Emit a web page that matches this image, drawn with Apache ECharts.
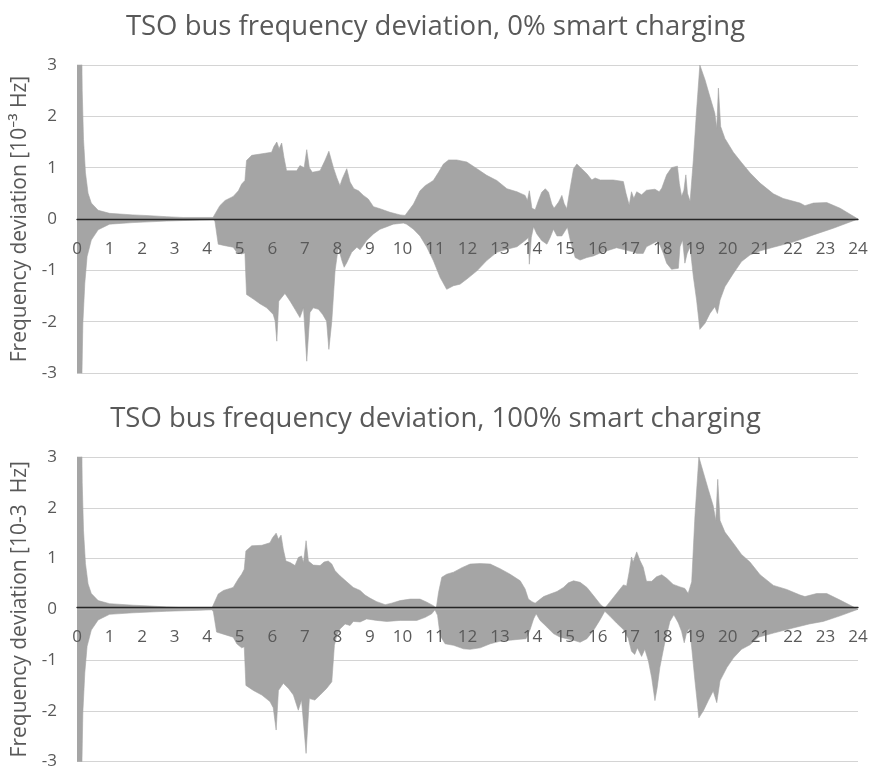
<!DOCTYPE html>
<html>
<head>
<meta charset="utf-8">
<title>TSO bus frequency deviation</title>
<script src="https://cdn.jsdelivr.net/npm/echarts@6/dist/echarts.min.js"></script>
<style>
  html, body { margin: 0; padding: 0; background: #ffffff; }
  #chart { width: 871px; height: 770px; }
</style>
</head>
<body>
<div id="chart"></div>
<script>
// Hour-of-day tick labels (0..24)
const hourTicks = Array.from({ length: 25 }, (_, i) => i);

const titles = [
  'TSO bus frequency deviation, 0% smart charging',
  'TSO bus frequency deviation, 100% smart charging'
];
const yNames = [
  'Frequency deviation [10\u207B\u00B3 Hz]',
  'Frequency deviation [10-3  Hz]'
];

// Envelope of the frequency deviation, [hour, 10^-3 Hz]; 0% smart charging
const topUpper = [
  [0, 3.4], [0.15, 3.1], [0.16, 2.5], [0.2, 1.55], [0.26, 0.9], [0.34, 0.5], [0.44, 0.31], [0.65, 0.17],
  [1.0, 0.11], [1.72, 0.08], [2.23, 0.065], [2.75, 0.045], [3.26, 0.03], [4.18, 0.03], [4.24, 0.05],
  [4.39, 0.26], [4.55, 0.36], [4.8, 0.44], [4.96, 0.55], [5.06, 0.68], [5.16, 0.75], [5.21, 1.14],
  [5.37, 1.24], [5.68, 1.27], [5.98, 1.3], [6.05, 1.41], [6.14, 1.5], [6.21, 1.37], [6.29, 1.48],
  [6.36, 1.2], [6.44, 0.94], [6.75, 0.94], [6.85, 1.04], [6.98, 1.0], [7.06, 1.35], [7.14, 1.0],
  [7.23, 0.91], [7.47, 0.94], [7.62, 1.14], [7.74, 1.32], [7.88, 1.0], [7.98, 0.81], [8.08, 0.65],
  [8.15, 0.78], [8.29, 0.98], [8.39, 0.72], [8.51, 0.59], [8.65, 0.55], [8.8, 0.46], [8.95, 0.39],
  [9.11, 0.24], [9.31, 0.2], [9.62, 0.13], [9.93, 0.08], [10.08, 0.07], [10.13, 0.1], [10.34, 0.29],
  [10.54, 0.55], [10.7, 0.65], [10.95, 0.75], [11.11, 0.91], [11.26, 1.07], [11.42, 1.15], [11.67, 1.15],
  [11.98, 1.11], [12.29, 0.98], [12.59, 0.85], [12.9, 0.75], [13.21, 0.59], [13.52, 0.53], [13.77, 0.46],
  [13.84, 0.36], [13.9, 0.55], [13.98, 0.21], [14.08, 0.18], [14.18, 0.36], [14.28, 0.52], [14.39, 0.59],
  [14.49, 0.52], [14.59, 0.29], [14.66, 0.21], [14.8, 0.33], [14.9, 0.46], [14.97, 0.3], [15.05, 0.2],
  [15.16, 0.62], [15.26, 0.98], [15.36, 1.07], [15.51, 0.98], [15.67, 0.88], [15.82, 0.76], [15.92, 0.8],
  [16.08, 0.76], [16.48, 0.76], [16.79, 0.73], [16.87, 0.5], [16.97, 0.27], [17.04, 0.53], [17.11, 0.4],
  [17.2, 0.53], [17.35, 0.47], [17.5, 0.56], [17.76, 0.58], [17.89, 0.53], [17.97, 0.6], [18.12, 0.86],
  [18.27, 1.0], [18.45, 1.03], [18.51, 0.69], [18.58, 0.44], [18.65, 0.56], [18.71, 0.86], [18.76, 0.5],
  [18.84, 0.34], [18.94, 1.15], [19.04, 2.12], [19.14, 3.0], [19.3, 2.71], [19.45, 2.38], [19.6, 2.06],
  [19.66, 1.77], [19.71, 2.55], [19.78, 1.8], [19.91, 1.57], [20.17, 1.3], [20.42, 1.1], [20.68, 0.9],
  [20.99, 0.7], [21.4, 0.49], [21.7, 0.4], [22.22, 0.31], [22.37, 0.26], [22.63, 0.31], [23.04, 0.32],
  [23.45, 0.21], [24, 0]
];
const topLower = [
  [0, -3.4], [0.15, -3.1], [0.18, -2.03], [0.24, -1.25], [0.31, -0.73], [0.44, -0.41], [0.65, -0.21],
  [1.0, -0.1], [1.72, -0.07], [2.75, -0.04], [3.77, -0.02], [4.2, -0.01], [4.24, -0.05], [4.34, -0.49],
  [4.55, -0.52], [4.8, -0.55], [4.91, -0.65], [5.06, -0.68], [5.16, -0.66], [5.21, -1.47], [5.42, -1.56],
  [5.62, -1.65], [5.83, -1.73], [6.03, -1.86], [6.09, -1.99], [6.14, -2.38], [6.2, -1.6], [6.39, -1.45],
  [6.55, -1.6], [6.7, -1.76], [6.85, -1.92], [6.96, -1.73], [7.06, -2.77], [7.16, -1.82], [7.26, -1.73],
  [7.42, -1.76], [7.55, -1.86], [7.67, -1.99], [7.74, -2.54], [7.83, -1.99], [7.93, -1.01], [8.03, -0.55],
  [8.14, -0.81], [8.21, -0.94], [8.29, -0.85], [8.44, -0.65], [8.6, -0.55], [8.7, -0.6], [8.9, -0.42],
  [9.11, -0.29], [9.31, -0.2], [9.52, -0.15], [9.72, -0.1], [10.03, -0.08], [10.13, -0.1], [10.34, -0.2],
  [10.54, -0.33], [10.75, -0.55], [10.95, -0.81], [11.16, -1.14], [11.36, -1.37], [11.57, -1.3],
  [11.77, -1.27], [11.98, -1.17], [12.29, -1.01], [12.59, -0.81], [12.9, -0.65], [13.21, -0.59],
  [13.52, -0.54], [13.77, -0.42], [13.87, -0.36], [13.9, -0.88], [13.96, -0.36], [14.03, -0.15],
  [14.13, -0.29], [14.28, -0.42], [14.44, -0.49], [14.54, -0.36], [14.64, -0.2], [14.75, -0.33],
  [14.9, -0.33], [15.0, -0.23], [15.07, -0.16], [15.16, -0.42], [15.31, -0.75], [15.46, -0.8],
  [15.67, -0.75], [15.87, -0.72], [16.08, -0.66], [16.58, -0.56], [17.09, -0.64], [17.2, -0.67],
  [17.4, -0.67], [17.5, -0.54], [17.81, -0.44], [17.91, -0.5], [18.02, -0.67], [18.12, -0.86],
  [18.27, -0.98], [18.48, -0.96], [18.53, -0.54], [18.61, -0.41], [18.68, -0.86], [18.75, -0.67],
  [18.84, -0.54], [18.94, -1.12], [19.04, -1.58], [19.14, -2.15], [19.3, -2.03], [19.45, -1.84],
  [19.6, -1.71], [19.68, -1.84], [19.76, -1.58], [19.91, -1.32], [20.17, -1.06], [20.42, -0.83],
  [20.68, -0.7], [21.0, -0.62], [21.4, -0.55], [22.0, -0.45], [22.63, -0.31], [23.24, -0.18], [24, 0]
];

// Envelope of the frequency deviation, [hour, 10^-3 Hz]; 100% smart charging
const botUpper = [
  [0, 3.4], [0.15, 3.1], [0.16, 2.5], [0.2, 1.55], [0.26, 0.9], [0.34, 0.5], [0.44, 0.31], [0.65, 0.17],
  [1.0, 0.11], [1.72, 0.08], [2.23, 0.065], [2.75, 0.045], [3.26, 0.03], [4.15, 0.03], [4.19, 0.05],
  [4.34, 0.3], [4.5, 0.37], [4.8, 0.43], [4.96, 0.6], [5.06, 0.69], [5.14, 0.79], [5.19, 1.15],
  [5.37, 1.25], [5.68, 1.26], [5.93, 1.31], [6.01, 1.41], [6.12, 1.5], [6.19, 1.38], [6.27, 1.46],
  [6.34, 1.18], [6.42, 0.95], [6.55, 0.92], [6.7, 0.86], [6.8, 1.02], [6.9, 1.05], [6.96, 0.92],
  [7.04, 1.35], [7.11, 0.95], [7.26, 0.87], [7.47, 0.86], [7.59, 0.93], [7.72, 0.95], [7.83, 0.89],
  [7.93, 0.76], [8.08, 0.66], [8.29, 0.54], [8.49, 0.43], [8.7, 0.37], [8.85, 0.28], [9.0, 0.22],
  [9.21, 0.15], [9.47, 0.09], [9.67, 0.12], [9.93, 0.17], [10.24, 0.2], [10.54, 0.2], [10.75, 0.14],
  [10.95, 0.07], [11.04, 0.02], [11.11, 0.33], [11.21, 0.63], [11.36, 0.69], [11.57, 0.73], [11.83, 0.82],
  [12.08, 0.89], [12.39, 0.9], [12.7, 0.89], [13.0, 0.8], [13.31, 0.69], [13.62, 0.56], [13.77, 0.4],
  [13.87, 0.2], [13.98, 0.15], [14.08, 0.12], [14.18, 0.17], [14.34, 0.25], [14.54, 0.3], [14.75, 0.35],
  [14.95, 0.43], [15.1, 0.52], [15.26, 0.56], [15.46, 0.53], [15.67, 0.43], [15.87, 0.27], [16.08, 0.1],
  [16.22, 0.02], [16.38, 0.15], [16.58, 0.31], [16.79, 0.48], [16.89, 0.46], [16.97, 0.74], [17.04, 1.03],
  [17.09, 0.93], [17.2, 1.13], [17.3, 0.96], [17.4, 0.83], [17.5, 0.55], [17.66, 0.55], [17.81, 0.64],
  [17.97, 0.68], [18.12, 0.61], [18.32, 0.49], [18.53, 0.44], [18.68, 0.41], [18.78, 0.31], [18.89, 0.54],
  [18.99, 1.84], [19.11, 3.0], [19.25, 2.69], [19.4, 2.36], [19.55, 2.04], [19.63, 1.75], [19.69, 2.56],
  [19.76, 1.75], [19.91, 1.52], [20.17, 1.3], [20.42, 1.08], [20.68, 0.93], [20.99, 0.68], [21.4, 0.47],
  [21.81, 0.39], [22.22, 0.28], [22.37, 0.25], [22.73, 0.31], [23.04, 0.31], [23.45, 0.18], [24, 0]
];
const botLower = [
  [0, -3.4], [0.15, -3.1], [0.18, -2.03], [0.24, -1.25], [0.31, -0.73], [0.44, -0.41], [0.65, -0.21],
  [1.0, -0.1], [1.72, -0.07], [2.75, -0.04], [3.77, -0.02], [4.15, -0.01], [4.19, -0.05], [4.29, -0.45],
  [4.55, -0.5], [4.8, -0.55], [4.91, -0.68], [5.06, -0.76], [5.14, -0.74], [5.19, -1.5], [5.42, -1.6],
  [5.68, -1.69], [5.93, -1.82], [6.03, -1.94], [6.12, -2.38], [6.19, -1.6], [6.34, -1.46], [6.5, -1.56],
  [6.65, -1.69], [6.8, -1.99], [6.9, -1.79], [7.04, -2.84], [7.14, -1.76], [7.31, -1.79], [7.47, -1.69],
  [7.67, -1.56], [7.83, -1.43], [7.91, -0.71], [7.98, -0.52], [8.08, -0.39], [8.24, -0.29], [8.39, -0.32],
  [8.49, -0.24], [8.7, -0.25], [8.9, -0.19], [9.21, -0.22], [9.52, -0.24], [9.93, -0.22], [10.44, -0.22],
  [10.7, -0.16], [10.9, -0.09], [11.0, -0.01], [11.08, -0.12], [11.16, -0.52], [11.31, -0.68],
  [11.57, -0.71], [11.88, -0.78], [12.08, -0.79], [12.39, -0.76], [12.7, -0.68], [13.0, -0.63],
  [13.31, -0.61], [13.62, -0.59], [13.8, -0.58], [13.93, -0.39], [14.03, -0.19], [14.11, -0.09],
  [14.23, -0.22], [14.44, -0.35], [14.64, -0.48], [14.85, -0.55], [15.05, -0.58], [15.26, -0.61],
  [15.46, -0.65], [15.67, -0.58], [15.87, -0.42], [16.08, -0.2], [16.22, -0.04], [16.38, -0.14],
  [16.58, -0.27], [16.79, -0.4], [16.94, -0.57], [17.04, -0.83], [17.14, -0.89], [17.22, -0.76],
  [17.35, -0.93], [17.45, -0.79], [17.56, -1.02], [17.66, -1.35], [17.76, -1.8], [17.83, -1.54],
  [17.91, -1.15], [18.07, -0.63], [18.22, -0.24], [18.34, -0.11], [18.48, -0.27], [18.58, -0.44],
  [18.66, -0.66], [18.73, -0.47], [18.82, -0.37], [18.89, -0.76], [18.99, -1.41], [19.11, -2.14],
  [19.25, -2.0], [19.4, -1.8], [19.55, -1.61], [19.66, -1.84], [19.76, -1.41], [19.97, -1.15],
  [20.17, -0.96], [20.42, -0.79], [20.68, -0.7], [20.94, -0.55], [21.4, -0.47], [22.0, -0.37],
  [22.5, -0.29], [22.93, -0.24], [23.45, -0.13], [24, 0]
];

const FONT = '"Open Sans", "Noto Sans", sans-serif';
const TEXT = '#595959';
const FILL = '#a5a5a5';

const grids = [
  { left: 77, right: 13, top: 65, height: 308 },
  { left: 77, right: 13, top: 457, height: 309 }
];

// The hour axis sits on the zero line: the value range is symmetric,
// so it is lifted by half the plot height from the bottom edge.
function xAxisFor(i) {
  return {
    type: 'value', gridIndex: i, min: hourTicks[0], max: hourTicks[hourTicks.length - 1], interval: 1,
    position: 'bottom', offset: -grids[i].height / 2,
    z: 10,
    axisLine: { show: true, onZero: false, lineStyle: { color: '#262626', width: 1.3 } },
    axisTick: { show: false },
    splitLine: { show: false },
    axisLabel: { color: TEXT, fontFamily: FONT, fontSize: 17, margin: 22 }
  };
}
function yAxisFor(i) {
  return {
    type: 'value', gridIndex: i, min: -3, max: 3, interval: 1,
    name: yNames[i], nameLocation: 'middle', nameGap: 37, nameRotate: 90,
    nameTextStyle: { color: TEXT, fontFamily: FONT, fontSize: 21 },
    axisLine: { show: false },
    axisTick: { show: false },
    splitLine: { show: true, lineStyle: { color: '#d4d4d4', width: 1.2 } },
    axisLabel: { color: TEXT, fontFamily: FONT, fontSize: 17, margin: 20 }
  };
}
function band(data, i) {
  return {
    type: 'line', xAxisIndex: i, yAxisIndex: i, data: data,
    showSymbol: false, symbol: 'none', smooth: false, clip: true,
    lineStyle: { width: 0.6, color: FILL },
    areaStyle: { color: FILL, opacity: 1 },
    z: 2, silent: true
  };
}

const chart = echarts.init(document.getElementById('chart'), null, { renderer: 'canvas' });
chart.setOption({
  animation: false,
  backgroundColor: '#ffffff',
  title: [
    { text: titles[0], left: 'center', top: 8, textStyle: { color: TEXT, fontFamily: FONT, fontSize: 27.5, fontWeight: 'normal' } },
    { text: titles[1], left: 'center', top: 400, textStyle: { color: TEXT, fontFamily: FONT, fontSize: 27.5, fontWeight: 'normal' } }
  ],
  grid: grids,
  xAxis: [xAxisFor(0), xAxisFor(1)],
  yAxis: [yAxisFor(0), yAxisFor(1)],
  series: [
    band(topUpper, 0), band(topLower, 0),
    band(botUpper, 1), band(botLower, 1)
  ]
});
</script>
</body>
</html>
